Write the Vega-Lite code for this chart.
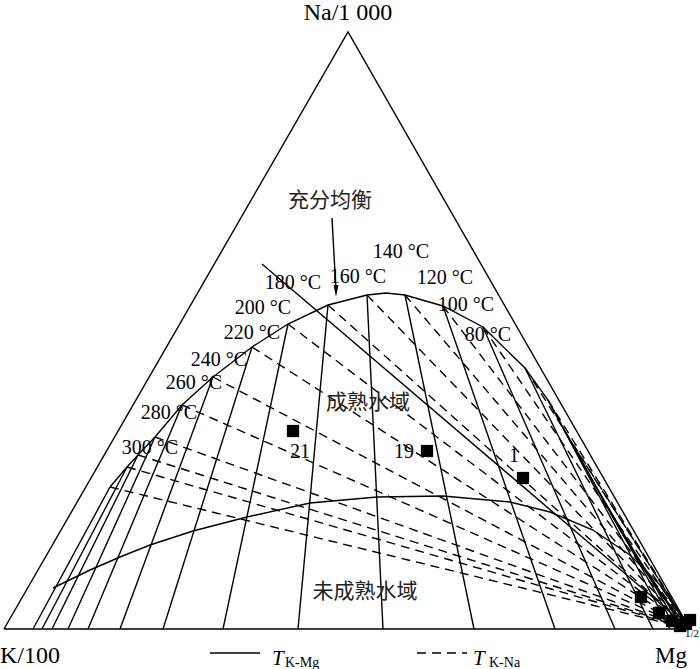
{
  "$schema": "https://vega.github.io/schema/vega-lite/v6.json",
  "width": 700,
  "height": 669,
  "padding": 0,
  "autosize": {"type": "none"},
  "background": "white",
  "config": {"view": {"stroke": null}},
  "datasets": {
    "solid": [
      {"g":"tri","o":0,"x":0,"y":0},{"g":"tri","o":1,"x":686,"y":0},{"g":"tri","o":2,"x":344,"y":597},{"g":"tri","o":3,"x":0,"y":0},
      {"g":"arc","o":0,"x":106,"y":142},{"g":"arc","o":1,"x":123,"y":162},{"g":"arc","o":2,"x":134,"y":174},{"g":"arc","o":3,"x":151,"y":192},
      {"g":"arc","o":4,"x":178,"y":224},{"g":"arc","o":5,"x":209,"y":252},{"g":"arc","o":6,"x":248,"y":282},{"g":"arc","o":7,"x":284,"y":305},
      {"g":"arc","o":8,"x":324,"y":324},{"g":"arc","o":9,"x":363,"y":334},{"g":"arc","o":10,"x":382,"y":336},{"g":"arc","o":11,"x":401,"y":334},
      {"g":"arc","o":12,"x":439,"y":323},{"g":"arc","o":13,"x":479,"y":302},{"g":"arc","o":14,"x":521,"y":261},{"g":"arc","o":15,"x":544,"y":229},
      {"g":"arc","o":16,"x":566,"y":189},{"g":"arc","o":17,"x":591,"y":144},{"g":"arc","o":18,"x":616,"y":99},{"g":"arc","o":19,"x":644,"y":54},
      {"g":"arc","o":20,"x":668,"y":21},{"g":"arc","o":21,"x":686,"y":0},
      {"g":"low","o":0,"x":49,"y":41},{"g":"low","o":1,"x":86,"y":59},{"g":"low","o":2,"x":116,"y":72},{"g":"low","o":3,"x":146,"y":84},
      {"g":"low","o":4,"x":189,"y":98},{"g":"low","o":5,"x":243,"y":112},{"g":"low","o":6,"x":306,"y":126},{"g":"low","o":7,"x":373,"y":132},
      {"g":"low","o":8,"x":439,"y":133},{"g":"low","o":9,"x":506,"y":127},{"g":"low","o":10,"x":546,"y":117},{"g":"low","o":11,"x":589,"y":99},
      {"g":"low","o":12,"x":626,"y":74},{"g":"low","o":13,"x":656,"y":44},{"g":"low","o":14,"x":686,"y":0},
      {"g":"m1","o":0,"x":106,"y":142},{"g":"m1","o":1,"x":29,"y":0},
      {"g":"m2","o":0,"x":123,"y":162},{"g":"m2","o":1,"x":38,"y":0},
      {"g":"m3","o":0,"x":134,"y":174},{"g":"m3","o":1,"x":48,"y":0},
      {"g":"m4","o":0,"x":151,"y":192},{"g":"m4","o":1,"x":64,"y":0},
      {"g":"m5","o":0,"x":178,"y":224},{"g":"m5","o":1,"x":84,"y":0},
      {"g":"m6","o":0,"x":209,"y":252},{"g":"m6","o":1,"x":116,"y":0},
      {"g":"m7","o":0,"x":248,"y":282},{"g":"m7","o":1,"x":159,"y":0},
      {"g":"m8","o":0,"x":284,"y":305},{"g":"m8","o":1,"x":219,"y":0},
      {"g":"m9","o":0,"x":324,"y":324},{"g":"m9","o":1,"x":294,"y":0},
      {"g":"m10","o":0,"x":363,"y":334},{"g":"m10","o":1,"x":379,"y":0},
      {"g":"m11","o":0,"x":401,"y":334},{"g":"m11","o":1,"x":470,"y":0},
      {"g":"m12","o":0,"x":439,"y":323},{"g":"m12","o":1,"x":551,"y":0},
      {"g":"m13","o":0,"x":479,"y":302},{"g":"m13","o":1,"x":611,"y":0},
      {"g":"m14","o":0,"x":521,"y":261},{"g":"m14","o":1,"x":649,"y":0},
      {"g":"m15","o":0,"x":544,"y":229},{"g":"m15","o":1,"x":666,"y":0},
      {"g":"m16","o":0,"x":566,"y":189},{"g":"m16","o":1,"x":672,"y":0},
      {"g":"m17","o":0,"x":591,"y":144},{"g":"m17","o":1,"x":676,"y":0},
      {"g":"m18","o":0,"x":616,"y":99},{"g":"m18","o":1,"x":680,"y":0},
      {"g":"eq","o":0,"x":258,"y":365},{"g":"eq","o":1,"x":686,"y":0},
      {"g":"arr","o":0,"x":328,"y":411},{"g":"arr","o":1,"x":332,"y":338},
      {"g":"leg1","o":0,"x":206,"y":-24},{"g":"leg1","o":1,"x":256,"y":-24}
    ],
    "dashed": [
      {"g":"n1","o":0,"x":106,"y":142},{"g":"n1","o":1,"x":686,"y":0},
      {"g":"n2","o":0,"x":123,"y":162},{"g":"n2","o":1,"x":686,"y":0},
      {"g":"n3","o":0,"x":134,"y":174},{"g":"n3","o":1,"x":686,"y":0},
      {"g":"n4","o":0,"x":151,"y":192},{"g":"n4","o":1,"x":686,"y":0},
      {"g":"n5","o":0,"x":178,"y":224},{"g":"n5","o":1,"x":686,"y":0},
      {"g":"n6","o":0,"x":209,"y":252},{"g":"n6","o":1,"x":686,"y":0},
      {"g":"n7","o":0,"x":248,"y":282},{"g":"n7","o":1,"x":686,"y":0},
      {"g":"n8","o":0,"x":284,"y":305},{"g":"n8","o":1,"x":686,"y":0},
      {"g":"n9","o":0,"x":324,"y":324},{"g":"n9","o":1,"x":686,"y":0},
      {"g":"n10","o":0,"x":363,"y":334},{"g":"n10","o":1,"x":686,"y":0},
      {"g":"n11","o":0,"x":401,"y":334},{"g":"n11","o":1,"x":686,"y":0},
      {"g":"n12","o":0,"x":439,"y":323},{"g":"n12","o":1,"x":686,"y":0},
      {"g":"n13","o":0,"x":479,"y":302},{"g":"n13","o":1,"x":686,"y":0},
      {"g":"n14","o":0,"x":521,"y":261},{"g":"n14","o":1,"x":686,"y":0},
      {"g":"n15","o":0,"x":544,"y":229},{"g":"n15","o":1,"x":686,"y":0},
      {"g":"n16","o":0,"x":566,"y":189},{"g":"n16","o":1,"x":686,"y":0},
      {"g":"leg2","o":0,"x":413,"y":-24},{"g":"leg2","o":1,"x":463,"y":-24}
    ],
    "samples": [
      {"id":"21","x":289,"y":198},{"id":"19","x":423,"y":178},{"id":"1","x":519,"y":151},
      {"id":"a","x":637,"y":32},{"id":"b","x":655,"y":16},{"id":"c","x":668,"y":8},
      {"id":"d","x":686,"y":9},{"id":"e","x":676,"y":3},{"id":"f","x":682,"y":5}
    ],
    "arrowhead": [{"x":332,"y":340}],
    "temps": [
      {"t":"80 °C","x":484,"y":294},{"t":"100 °C","x":462,"y":324},{"t":"120 °C","x":441,"y":351},
      {"t":"140 °C","x":397,"y":377},{"t":"160 °C","x":354,"y":352},{"t":"180 °C","x":289,"y":346},
      {"t":"200 °C","x":259,"y":321},{"t":"220 °C","x":248,"y":296},{"t":"240 °C","x":215,"y":269},
      {"t":"260 °C","x":190,"y":246},{"t":"280 °C","x":165,"y":216},{"t":"300 °C","x":146,"y":181},
      {"t":"21","x":296,"y":177},{"t":"19","x":400,"y":177},{"t":"1","x":510,"y":173}
    ],
    "corners": [
      {"t":"Na/1 000","x":344,"y":616}
    ],
    "cornersL": [
      {"t":"K/100","x":-4,"y":-27}
    ],
    "cornersR": [
      {"t":"Mg","x":683,"y":-27}
    ],
    "sup": [{"t":"1/2","x":695,"y":-5}],
    "legT": [{"t":"T","x":268,"y":-36},{"t":"T","x":469,"y":-36}],
    "legSub": [{"t":"K-Mg","x":281,"y":-38},{"t":"K-Na","x":485,"y":-38}],
    "cjk": [
      {"t":"充分均衡","x":326,"y":428},{"t":"成熟水域","x":364,"y":226},{"t":"未成熟水域","x":361,"y":37}
    ]
  },
  "encoding": {
    "x": {"field": "x", "type": "quantitative", "scale": {"domain": [-4, 696], "nice": false, "zero": false}, "axis": null},
    "y": {"field": "y", "type": "quantitative", "scale": {"domain": [-40, 629], "nice": false, "zero": false}, "axis": null}
  },
  "layer": [
    {
      "data": {"name": "solid"},
      "mark": {"type": "line", "color": "black", "strokeWidth": 1.4},
      "encoding": {"detail": {"field": "g"}, "order": {"field": "o", "type": "quantitative"}}
    },
    {
      "data": {"name": "dashed"},
      "mark": {"type": "line", "color": "black", "strokeWidth": 1.4, "strokeDash": [9, 6]},
      "encoding": {"detail": {"field": "g"}, "order": {"field": "o", "type": "quantitative"}}
    },
    {
      "data": {"name": "samples"},
      "mark": {"type": "point", "shape": "square", "filled": true, "color": "black", "size": 150, "opacity": 1}
    },
    {
      "data": {"name": "arrowhead"},
      "mark": {"type": "point", "shape": "M0,1L-0.3,-0.5L0.3,-0.5Z", "filled": true, "color": "black", "size": 256, "opacity": 1}
    },
    {
      "data": {"name": "temps"},
      "mark": {"type": "text", "font": "Liberation Serif", "fontSize": 20, "color": "black", "align": "center", "baseline": "middle"},
      "encoding": {"text": {"field": "t"}}
    },
    {
      "data": {"name": "corners"},
      "mark": {"type": "text", "font": "Liberation Serif", "fontSize": 24, "color": "black", "align": "center", "baseline": "middle"},
      "encoding": {"text": {"field": "t"}}
    },
    {
      "data": {"name": "cornersL"},
      "mark": {"type": "text", "font": "Liberation Serif", "fontSize": 24, "color": "black", "align": "left", "baseline": "middle"},
      "encoding": {"text": {"field": "t"}}
    },
    {
      "data": {"name": "cornersR"},
      "mark": {"type": "text", "font": "Liberation Serif", "fontSize": 23, "color": "black", "align": "right", "baseline": "middle"},
      "encoding": {"text": {"field": "t"}}
    },
    {
      "data": {"name": "sup"},
      "mark": {"type": "text", "font": "Liberation Serif", "fontSize": 11, "color": "black", "align": "right", "baseline": "middle"},
      "encoding": {"text": {"field": "t"}}
    },
    {
      "data": {"name": "legT"},
      "mark": {"type": "text", "font": "Liberation Serif", "fontSize": 21, "fontStyle": "italic", "color": "black", "align": "left", "baseline": "alphabetic"},
      "encoding": {"text": {"field": "t"}}
    },
    {
      "data": {"name": "legSub"},
      "mark": {"type": "text", "font": "Liberation Serif", "fontSize": 14, "color": "black", "align": "left", "baseline": "alphabetic"},
      "encoding": {"text": {"field": "t"}}
    },
    {
      "data": {"name": "cjk"},
      "mark": {"type": "text", "font": "Noto Sans CJK SC", "fontSize": 21, "color": "#222", "align": "center", "baseline": "middle"},
      "encoding": {"text": {"field": "t"}}
    }
  ]
}
